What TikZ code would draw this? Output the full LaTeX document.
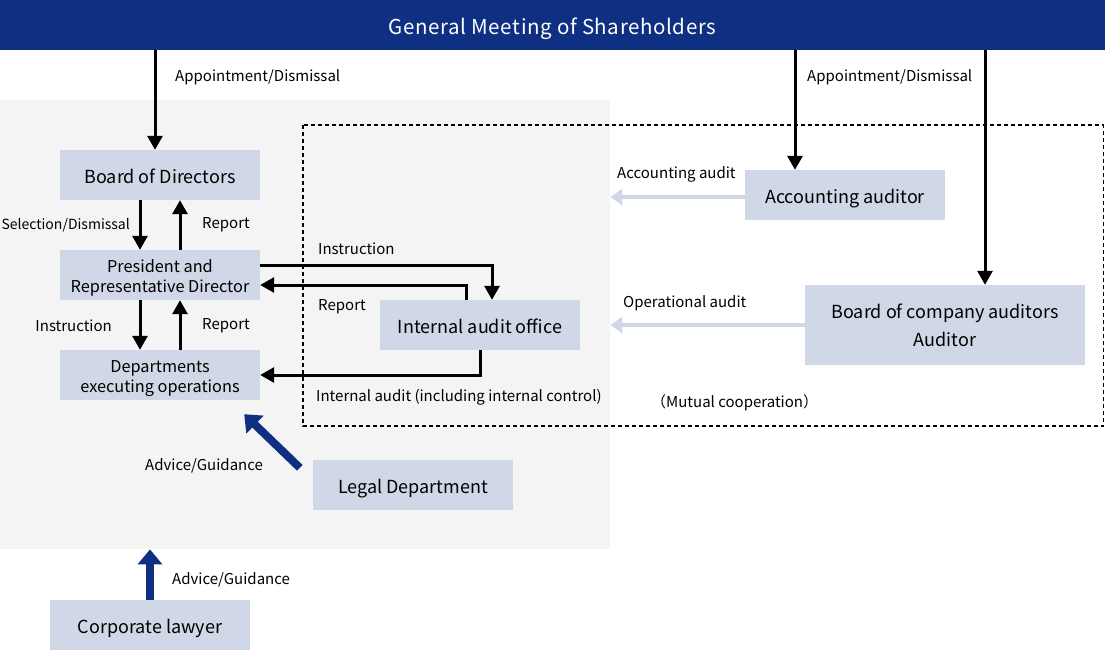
\documentclass[tikz,border=0pt]{standalone}
\usepackage{fontspec}
\setmainfont{Noto Sans CJK JP}
\usetikzlibrary{positioning,arrows.meta,calc}
\definecolor{navy}{HTML}{0F3082}
\definecolor{boxbg}{HTML}{D0D7E6}
\definecolor{panelbg}{HTML}{F4F4F4}

\begin{document}
\begin{tikzpicture}[
  x=1pt,y=-1pt,
  font=\fontsize{18}{21}\selectfont,
  box/.style={fill=boxbg,minimum width=200pt,minimum height=50pt,inner sep=0pt,align=center,text height=17pt,text depth=0pt},
  twoline/.style={font=\fontsize{16.3}{20}\selectfont,text height=34pt,text depth=0pt},
  lab/.style={font=\fontsize{15}{18}\selectfont,inner sep=0pt},
  conn/.style={line width=3pt,-{Triangle[length=14pt,width=15pt]}},
  audit/.style={boxbg,line width=4pt,-{Triangle[length=12pt,width=16pt]}},
  advice/.style={navy,line width=8pt,-{Triangle[length=15pt,width=24pt]}},
]
\useasboundingbox (0,0) rectangle (1105,650);
% backgrounds
\node[fill=panelbg,minimum width=610pt,minimum height=449pt,inner sep=0pt,anchor=north west] (panel) at (0,100) {};
\draw[line width=1.3pt,dash pattern=on 4pt off 3pt] (303,125) rectangle (1103.5,426);
\node[fill=navy,text=white,minimum width=1105pt,minimum height=50pt,inner sep=0pt,text height=19pt,text depth=0pt,font=\fontsize{20.5}{24}\selectfont\addfontfeatures{LetterSpace=3}] (gm) at (552.5,25) {General Meeting of Shareholders};
% boxes
\node[box] (bod) at (160,175) {Board of Directors};
\node[box,twoline] (pres) at (160,275) {President and\\Representative Director};
\node[box,twoline] (dep) at (160,375) {Departments\\executing operations};
\node[box] (iao) at (480,325) {Internal audit office};
\node[box] (aa) at (845,195) {Accounting auditor};
\node[box,minimum width=280pt,minimum height=80pt,font=\fontsize{18}{28}\selectfont,text height=43pt,text depth=0pt] (bca) at (945,325) {Board of company auditors\\Auditor};
\node[box] (lgl) at (413,485) {Legal Department};
\node[box] (cl) at (150,625) {Corporate lawyer};
% appointment
\coordinate (aBod) at ($(bod.north)+(-5,0)$);
\coordinate (aAa) at ($(aa.north)+(-50,0)$);
\coordinate (aBca) at ($(bca.north)+(40,0)$);
\foreach \t in {aBod,aAa,aBca}{ \draw[conn] (gm.south -| \t) -- (\t); }
\node[lab,anchor=west] at (175,77) {Appointment/Dismissal};
\node[lab,anchor=west] at (807,77) {Appointment/Dismissal};
% chain of command
\foreach \a/\b in {bod/pres,pres/dep}{
  \draw[conn] ($(\a.south)+(-20,0)$) -- ($(\b.north)+(-20,0)$);
  \draw[conn] ($(\b.north)+(20,0)$) -- ($(\a.south)+(20,0)$);
}
\node[lab,anchor=east,font=\fontsize{14}{17}\selectfont] at (130,225) {Selection/Dismissal};
\node[lab,anchor=west] at (202,225) {Report};
\node[lab,anchor=east] at (112,326) {Instruction};
\node[lab,anchor=west] at (202,326) {Report};
% internal audit
\draw[conn] ($(pres.east)+(0,-10)$) -| ($(iao.north)+(12,0)$);
\draw[conn] ($(iao.north)+(-14,0)$) |- ($(pres.east)+(0,10)$);
\draw[conn] (iao.south) |- (dep.east);
\node[lab,anchor=west] at (318,249) {Instruction};
\node[lab,anchor=west] at (318,307) {Report};
\node[lab,anchor=west] at (316,397) {Internal audit (including internal control)};
% audits
\draw[audit] ($(aa.west)+(0,2)$) -- ($(aa.west -| panel.east)+(0,2)$);
\draw[audit] (bca.west) -- (bca.west -| panel.east);
\node[lab,anchor=west] at (617,174) {Accounting audit};
\node[lab,anchor=west] at (623,303) {Operational audit};
\node[lab,anchor=west] at (651,403) {（Mutual cooperation）};
% advice
\draw[advice] ($(lgl.north west)+(-13,8)$) -- ($(dep.south east)+(-16,14)$);
\draw[advice] (cl.north) -- (cl.north |- panel.south);
\node[lab,anchor=west] at (145,466) {Advice/Guidance};
\node[lab,anchor=west] at (172,580) {Advice/Guidance};
\end{tikzpicture}
\end{document}
